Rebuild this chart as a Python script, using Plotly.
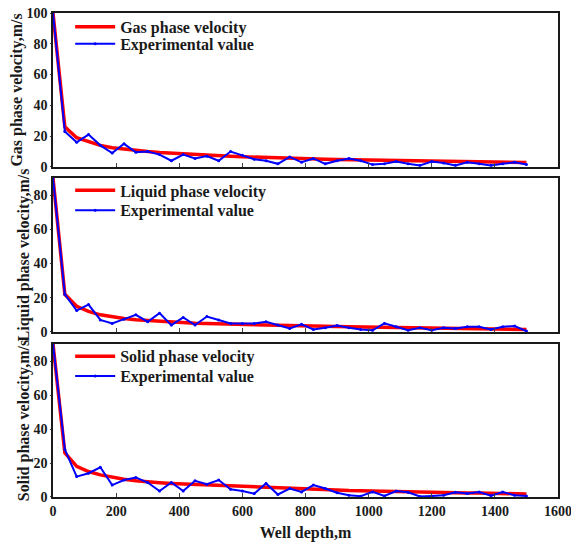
import plotly.graph_objects as go
from plotly.subplots import make_subplots

depth = [0, 37.5, 75, 112.5, 150, 187.5, 225, 262.5, 300, 337.5, 375, 412.5, 450, 487.5,
         525, 562.5, 600, 637.5, 675, 712.5, 750, 787.5, 825, 862.5, 900, 937.5, 975,
         1012.5, 1050, 1087.5, 1125, 1162.5, 1200, 1237.5, 1275, 1312.5, 1350, 1387.5,
         1425, 1462.5, 1500]

gas_model = [100, 26, 19, 16.5, 14, 12.5, 11.5, 10.8, 10, 9.4, 8.9, 8.4, 8.0, 7.6, 7.2, 6.9,
             6.6, 6.3, 6.0, 5.8, 5.6, 5.4, 5.2, 5.0, 4.8, 4.7, 4.5, 4.4, 4.2, 4.1, 3.9, 3.8,
             3.7, 3.5, 3.4, 3.3, 3.2, 3.1, 3.0, 2.9, 2.8]
gas_exp = [100, 23, 16, 21, 14, 9, 15, 9.5, 10, 8, 4, 8, 5.5, 7, 4, 10, 7.5, 5, 4, 2, 6.5,
           3, 5.5, 2, 4, 5.5, 4, 1.5, 2, 3.5, 2, 1, 3.5, 2.5, 1, 3, 2, 1, 2, 3, 1.5]

liq_model = [90, 22, 15, 12, 10, 8.8, 7.9, 7.2, 6.7, 6.2, 5.8, 5.4, 5.1, 4.9, 4.7, 4.5, 4.3,
             4.1, 3.9, 3.8, 3.6, 3.5, 3.4, 3.3, 3.2, 3.1, 3.0, 2.9, 2.8, 2.7, 2.6, 2.5, 2.4,
             2.3, 2.2, 2.1, 2.0, 1.9, 1.8, 1.6, 1.4]
liq_exp = [90, 22, 12.5, 16, 7, 5, 7.5, 10, 6, 11, 4, 8.5, 4, 9, 7, 5, 5, 5, 6, 4, 2, 4.5,
           1.5, 2.5, 3.7, 2.5, 1.5, 1, 5, 3, 1, 2.5, 1, 2.5, 2, 3, 3, 1.5, 3, 3.5, 0.5]

sol_model = [90, 26, 18, 15, 13, 11.5, 10.5, 9.5, 8.8, 8.4, 8.0, 7.7, 7.4, 7.1, 6.8, 6.5,
             6.2, 5.8, 5.5, 5.1, 4.8, 4.5, 4.3, 4.1, 4.0, 3.8, 3.7, 3.5, 3.4, 3.2, 3.1, 3.0,
             2.8, 2.7, 2.6, 2.4, 2.3, 2.2, 2.0, 1.9, 1.8]
sol_exp = [90, 28, 12, 14, 17.5, 7, 10, 11.5, 8.5, 3.5, 8.5, 3.5, 9.5, 7.5, 10, 4.5, 3.5, 2,
           8, 1.5, 5, 3, 7, 5, 2.5, 1, 0.5, 3, 0.6, 3.5, 2.8, 0.3, 0.6, 1, 2.8, 2, 2.9, 0.8,
           2.9, 1, 0.6]

model_names = ["Gas phase velocity", "Liquid phase velocity", "Solid phase velocity"]
exp_name = "Experimental value"
y_titles = ["Gas phase velocity,m/s", "Liquid phase velocity,m/s", "Solid phase velocity,m/s"]
y_ranges = [[0, 100], [0, 90], [0, 90]]
y_ticks = [[0, 20, 40, 60, 80, 100], [0, 20, 40, 60, 80], [0, 20, 40, 60, 80]]
x_ticks = [0, 200, 400, 600, 800, 1000, 1200, 1400, 1600]
x_title = "Well depth,m"

models = [gas_model, liq_model, sol_model]
exps = [gas_exp, liq_exp, sol_exp]

FONT = "Liberation Serif"
INK = "#1a1a1a"

fig = make_subplots(rows=3, cols=1)
domains = [[0.682, 1.0], [0.341, 0.659], [0.0, 0.316]]
# legend item centres (paper y) for [model, experimental] per panel
legend_y = [[0.9713, 0.9363], [0.6335, 0.5924], [0.2908, 0.2497]]

for i in range(3):
    r = i + 1
    lk_model = "legend" if i == 0 else f"legend{2 * i + 1}"
    lk_exp = f"legend{2 * i + 2}"
    fig.add_trace(go.Scatter(x=depth, y=models[i], mode="lines", name=model_names[i],
                             line=dict(color="#ff0000", width=3.5), legend=lk_model),
                  row=r, col=1)
    fig.add_trace(go.Scatter(x=depth, y=exps[i], mode="lines+markers", name=exp_name,
                             line=dict(color="#0000ff", width=2),
                             marker=dict(size=3, color="#0000ff"), legend=lk_exp),
                  row=r, col=1)

axis_common = dict(showline=True, linecolor=INK, linewidth=1.5, mirror=True,
                   showgrid=False, zeroline=False, automargin=False,
                   tickfont=dict(family=FONT, size=14, color=INK, weight="bold"))

for i in range(3):
    r = i + 1
    fig.update_xaxes(range=[0, 1600], tickvals=x_ticks, ticks="inside", ticklen=4,
                     showticklabels=(r == 3), ticklabeloverflow="allow",
                     **axis_common, row=r, col=1)
    fig.update_yaxes(range=y_ranges[i], tickvals=y_ticks[i], ticks="outside", ticklen=1,
                     domain=domains[i],
                     title=dict(text=y_titles[i], standoff=0,
                                font=dict(family=FONT, size=16, color=INK, weight="bold")),
                     **axis_common, row=r, col=1)

fig.update_xaxes(title=dict(text=x_title, standoff=9,
                            font=dict(family=FONT, size=16, color=INK, weight="bold")),
                 row=3, col=1)

leg_common = dict(bgcolor="rgba(0,0,0,0)", borderwidth=0, itemwidth=40,
                  font=dict(family=FONT, size=16, color=INK, weight="bold"),
                  xanchor="left", yanchor="middle", x=0.034)
layout_legends = {}
for i in range(3):
    k1 = "legend" if i == 0 else f"legend{2 * i + 1}"
    k2 = f"legend{2 * i + 2}"
    layout_legends[k1] = dict(y=legend_y[i][0], **leg_common)
    layout_legends[k2] = dict(y=legend_y[i][1], **leg_common)

fig.update_layout(
    width=571, height=544,
    margin=dict(l=53, r=13, t=10, b=47),
    plot_bgcolor="white", paper_bgcolor="white",
    showlegend=True,
    **layout_legends,
)

fig.write_html("out.html", config={"displayModeBar": False},
               post_script="document.body.style.margin='0';")
